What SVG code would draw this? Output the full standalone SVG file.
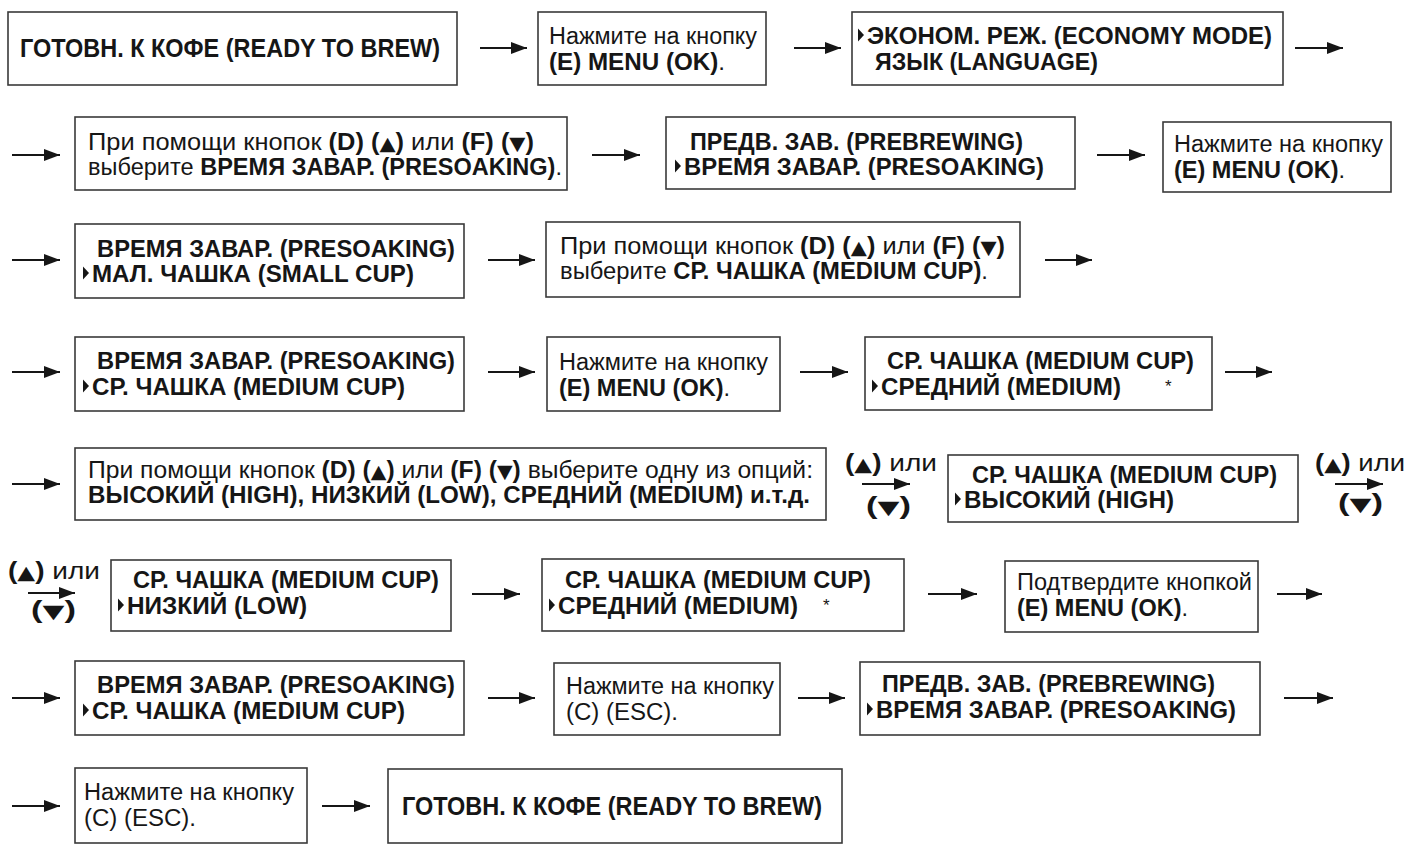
<svg xmlns="http://www.w3.org/2000/svg" xmlns:xlink="http://www.w3.org/1999/xlink" width="1412" height="846" viewBox="0 0 1412 846">
<style>
  .box { fill: #ffffff; stroke: #3a3a3a; stroke-width: 1.6; }
  .t { font-family: "Liberation Sans", Arial, "DejaVu Sans", sans-serif; font-size: 23px; fill: #161616; }
  .big { font-size: 25px; font-weight: bold; }
  .b { font-weight: bold; }
  .tri { font-family: "DejaVu Sans", sans-serif; font-size: 19px; }
  .ar { stroke: #161616; stroke-width: 2; fill: none; marker-end: url(#ah); }
  .ptr { fill: #161616; }
</style>
<defs>
  <marker id="ah" markerUnits="userSpaceOnUse" markerWidth="16" markerHeight="12" refX="16" refY="6" orient="auto">
    <path d="M0,0 L16,6 L0,12 Z" fill="#161616"/>
  </marker>
  <path id="ptr" d="M0,-6.5 L6,0 L0,6.5 Z"/>
</defs>
<rect width="1412" height="846" fill="#ffffff"/>

<g id="connectors">
  <line class="ar" x1="480" y1="48" x2="527" y2="48"/>
  <line class="ar" x1="794" y1="48" x2="841" y2="48"/>
  <line class="ar" x1="1295" y1="48" x2="1343" y2="48"/>
  <line class="ar" x1="12" y1="155" x2="60" y2="155"/>
  <line class="ar" x1="592" y1="155" x2="640" y2="155"/>
  <line class="ar" x1="1097" y1="155" x2="1145" y2="155"/>
  <line class="ar" x1="12" y1="260" x2="60" y2="260"/>
  <line class="ar" x1="488" y1="260" x2="535" y2="260"/>
  <line class="ar" x1="1045" y1="260" x2="1092" y2="260"/>
  <line class="ar" x1="12" y1="372" x2="60" y2="372"/>
  <line class="ar" x1="488" y1="372" x2="535" y2="372"/>
  <line class="ar" x1="800" y1="372" x2="848" y2="372"/>
  <line class="ar" x1="1225" y1="372" x2="1272" y2="372"/>
  <line class="ar" x1="12" y1="484" x2="60" y2="484"/>
  <line class="ar" x1="862" y1="484" x2="910" y2="484"/>
  <line class="ar" x1="1335" y1="484" x2="1383" y2="484"/>
  <line class="ar" x1="28" y1="593" x2="75" y2="593"/>
  <line class="ar" x1="472" y1="594" x2="520" y2="594"/>
  <line class="ar" x1="928" y1="594" x2="977" y2="594"/>
  <line class="ar" x1="1277" y1="594" x2="1322" y2="594"/>
  <line class="ar" x1="12" y1="698" x2="60" y2="698"/>
  <line class="ar" x1="488" y1="698" x2="535" y2="698"/>
  <line class="ar" x1="798" y1="698" x2="845" y2="698"/>
  <line class="ar" x1="1284" y1="698" x2="1333" y2="698"/>
  <line class="ar" x1="12" y1="806" x2="60" y2="806"/>
  <line class="ar" x1="322" y1="806" x2="370" y2="806"/>
  <text class="t" x="845" y="471" textLength="92" lengthAdjust="spacingAndGlyphs"><tspan class="b">(<tspan class="tri">▲</tspan>) </tspan>или</text>
  <text class="t b" x="866" y="514" textLength="45" lengthAdjust="spacingAndGlyphs">(<tspan class="tri">▼</tspan>)</text>
  <text class="t" x="1315" y="471" textLength="90" lengthAdjust="spacingAndGlyphs"><tspan class="b">(<tspan class="tri">▲</tspan>) </tspan>или</text>
  <text class="t b" x="1338" y="511" textLength="45" lengthAdjust="spacingAndGlyphs">(<tspan class="tri">▼</tspan>)</text>
  <text class="t" x="8" y="579" textLength="92" lengthAdjust="spacingAndGlyphs"><tspan class="b">(<tspan class="tri">▲</tspan>) </tspan>или</text>
  <text class="t b" x="31" y="618" textLength="45" lengthAdjust="spacingAndGlyphs">(<tspan class="tri">▼</tspan>)</text>
</g>

<g id="n1">
  <rect class="box" x="8" y="12" width="449" height="73"/>
  <text class="t big" x="20" y="57" textLength="420" lengthAdjust="spacingAndGlyphs">ГОТОВН. К КОФЕ (READY TO BREW)</text>
</g>
<g id="n2">
  <rect class="box" x="538" y="12" width="228" height="73"/>
  <text class="t" x="549" y="44" textLength="208" lengthAdjust="spacingAndGlyphs">Нажмите на кнопку</text>
  <text class="t" x="549" y="70" textLength="176" lengthAdjust="spacingAndGlyphs"><tspan class="b">(E) MENU (OK)</tspan>.</text>
</g>
<g id="n3">
  <rect class="box" x="852" y="12" width="431" height="73"/>
  <use href="#ptr" class="ptr" x="858" y="35"/>
  <text class="t b" x="867" y="44" textLength="405" lengthAdjust="spacingAndGlyphs">ЭКОНОМ. РЕЖ. (ECONOMY MODE)</text>
  <text class="t b" x="875" y="70" textLength="223" lengthAdjust="spacingAndGlyphs">ЯЗЫК (LANGUAGE)</text>
</g>

<g id="n4">
  <rect class="box" x="75" y="117" width="492" height="73"/>
  <text class="t" x="88" y="150" textLength="446" lengthAdjust="spacingAndGlyphs">При помощи кнопок <tspan class="b">(D) (<tspan class="tri">▲</tspan>) </tspan>или <tspan class="b">(F)  (<tspan class="tri">▼</tspan>)</tspan></text>
  <text class="t" x="88" y="175" textLength="474" lengthAdjust="spacingAndGlyphs">выберите <tspan class="b">ВРЕМЯ ЗАВАР. (PRESOAKING)</tspan>.</text>
</g>
<g id="n5">
  <rect class="box" x="666" y="117" width="409" height="72"/>
  <text class="t b" x="690" y="150" textLength="333" lengthAdjust="spacingAndGlyphs">ПРЕДВ. ЗАВ. (PREBREWING)</text>
  <use href="#ptr" class="ptr" x="675" y="166"/>
  <text class="t b" x="684" y="175" textLength="360" lengthAdjust="spacingAndGlyphs">ВРЕМЯ ЗАВАР. (PRESOAKING)</text>
</g>
<g id="n6">
  <rect class="box" x="1163" y="122" width="228" height="70"/>
  <text class="t" x="1174" y="152" textLength="209" lengthAdjust="spacingAndGlyphs">Нажмите на кнопку</text>
  <text class="t" x="1174" y="178" textLength="171" lengthAdjust="spacingAndGlyphs"><tspan class="b">(E) MENU (OK)</tspan>.</text>
</g>

<g id="n7">
  <rect class="box" x="75" y="224" width="389" height="74"/>
  <text class="t b" x="97" y="257" textLength="358" lengthAdjust="spacingAndGlyphs">ВРЕМЯ ЗАВАР. (PRESOAKING)</text>
  <use href="#ptr" class="ptr" x="83" y="273"/>
  <text class="t b" x="92" y="282" textLength="322" lengthAdjust="spacingAndGlyphs">МАЛ. ЧАШКА (SMALL CUP)</text>
</g>
<g id="n8">
  <rect class="box" x="546" y="222" width="474" height="75"/>
  <text class="t" x="560" y="254" textLength="445" lengthAdjust="spacingAndGlyphs">При помощи кнопок <tspan class="b">(D) (<tspan class="tri">▲</tspan>) </tspan>или <tspan class="b">(F)  (<tspan class="tri">▼</tspan>)</tspan></text>
  <text class="t" x="560" y="279" textLength="428" lengthAdjust="spacingAndGlyphs">выберите <tspan class="b">СР. ЧАШКА (MEDIUM CUP)</tspan>.</text>
</g>

<g id="n9">
  <rect class="box" x="75" y="337" width="389" height="74"/>
  <text class="t b" x="97" y="369" textLength="358" lengthAdjust="spacingAndGlyphs">ВРЕМЯ ЗАВАР. (PRESOAKING)</text>
  <use href="#ptr" class="ptr" x="83" y="386"/>
  <text class="t b" x="92" y="395" textLength="313" lengthAdjust="spacingAndGlyphs">СР. ЧАШКА (MEDIUM CUP)</text>
</g>
<g id="n10">
  <rect class="box" x="547" y="337" width="233" height="74"/>
  <text class="t" x="559" y="370" textLength="209" lengthAdjust="spacingAndGlyphs">Нажмите на кнопку</text>
  <text class="t" x="559" y="396" textLength="171" lengthAdjust="spacingAndGlyphs"><tspan class="b">(E) MENU (OK)</tspan>.</text>
</g>
<g id="n11">
  <rect class="box" x="865" y="337" width="347" height="73"/>
  <text class="t b" x="887" y="369" textLength="307" lengthAdjust="spacingAndGlyphs">СР. ЧАШКА (MEDIUM CUP)</text>
  <use href="#ptr" class="ptr" x="872" y="386"/>
  <text class="t b" x="881" y="395" textLength="240" lengthAdjust="spacingAndGlyphs">СРЕДНИЙ (MEDIUM)</text>
  <text class="t" x="1165" y="392" style="font-size:17px">*</text>
</g>

<g id="n12">
  <rect class="box" x="75" y="448" width="751" height="72"/>
  <text class="t" x="88" y="478" textLength="725" lengthAdjust="spacingAndGlyphs">При помощи кнопок <tspan class="b">(D) (<tspan class="tri">▲</tspan>)  </tspan>или <tspan class="b">(F) (<tspan class="tri">▼</tspan>)  </tspan>выберите одну из опций:</text>
  <text class="t b" x="88" y="503" textLength="722" lengthAdjust="spacingAndGlyphs">ВЫСОКИЙ (HIGH), НИЗКИЙ (LOW), СРЕДНИЙ (MEDIUM) и.т.д.</text>
</g>
<g id="n13">
  <rect class="box" x="948" y="455" width="350" height="67"/>
  <text class="t b" x="972" y="483" textLength="305" lengthAdjust="spacingAndGlyphs">СР. ЧАШКА (MEDIUM CUP)</text>
  <use href="#ptr" class="ptr" x="955" y="499"/>
  <text class="t b" x="964" y="508" textLength="210" lengthAdjust="spacingAndGlyphs">ВЫСОКИЙ (HIGH)</text>
</g>

<g id="n14">
  <rect class="box" x="111" y="560" width="340" height="71"/>
  <text class="t b" x="133" y="588" textLength="306" lengthAdjust="spacingAndGlyphs">СР. ЧАШКА (MEDIUM CUP)</text>
  <use href="#ptr" class="ptr" x="118" y="605"/>
  <text class="t b" x="127" y="614" textLength="180" lengthAdjust="spacingAndGlyphs">НИЗКИЙ (LOW)</text>
</g>
<g id="n15">
  <rect class="box" x="542" y="559" width="362" height="72"/>
  <text class="t b" x="565" y="588" textLength="306" lengthAdjust="spacingAndGlyphs">СР. ЧАШКА (MEDIUM CUP)</text>
  <use href="#ptr" class="ptr" x="549" y="605"/>
  <text class="t b" x="558" y="614" textLength="240" lengthAdjust="spacingAndGlyphs">СРЕДНИЙ (MEDIUM)</text>
  <text class="t" x="823" y="611" style="font-size:17px">*</text>
</g>
<g id="n16">
  <rect class="box" x="1005" y="561" width="253" height="71"/>
  <text class="t" x="1017" y="590" textLength="235" lengthAdjust="spacingAndGlyphs">Подтвердите кнопкой</text>
  <text class="t" x="1017" y="616" textLength="171" lengthAdjust="spacingAndGlyphs"><tspan class="b">(E) MENU (OK)</tspan>.</text>
</g>

<g id="n17">
  <rect class="box" x="75" y="661" width="389" height="74"/>
  <text class="t b" x="97" y="693" textLength="358" lengthAdjust="spacingAndGlyphs">ВРЕМЯ ЗАВАР. (PRESOAKING)</text>
  <use href="#ptr" class="ptr" x="83" y="710"/>
  <text class="t b" x="92" y="719" textLength="313" lengthAdjust="spacingAndGlyphs">СР. ЧАШКА (MEDIUM CUP)</text>
</g>
<g id="n18">
  <rect class="box" x="554" y="663" width="226" height="72"/>
  <text class="t" x="566" y="694" textLength="208" lengthAdjust="spacingAndGlyphs">Нажмите на кнопку</text>
  <text class="t" x="566" y="720" textLength="112" lengthAdjust="spacingAndGlyphs">(C) (ESC).</text>
</g>
<g id="n19">
  <rect class="box" x="860" y="662" width="400" height="73"/>
  <text class="t b" x="882" y="692" textLength="333" lengthAdjust="spacingAndGlyphs">ПРЕДВ. ЗАВ. (PREBREWING)</text>
  <use href="#ptr" class="ptr" x="867" y="709"/>
  <text class="t b" x="876" y="718" textLength="360" lengthAdjust="spacingAndGlyphs">ВРЕМЯ ЗАВАР. (PRESOAKING)</text>
</g>

<g id="n20">
  <rect class="box" x="75" y="768" width="232" height="75"/>
  <text class="t" x="84" y="800" textLength="210" lengthAdjust="spacingAndGlyphs">Нажмите на кнопку</text>
  <text class="t" x="84" y="826" textLength="112" lengthAdjust="spacingAndGlyphs">(C) (ESC).</text>
</g>
<g id="n21">
  <rect class="box" x="388" y="769" width="454" height="74"/>
  <text class="t big" x="402" y="815" textLength="420" lengthAdjust="spacingAndGlyphs">ГОТОВН. К КОФЕ (READY TO BREW)</text>
</g>
</svg>
